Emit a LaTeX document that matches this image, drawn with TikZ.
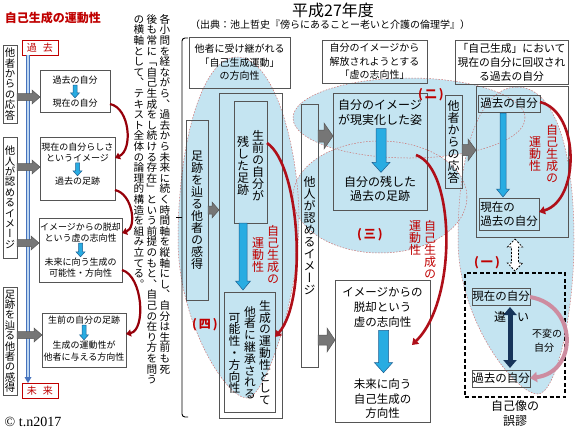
\documentclass[tikz,border=0pt]{standalone}
\usepackage{fontspec}
\setmainfont{Noto Sans CJK JP}
\newfontfamily\jpv[RawFeature=+vert]{Noto Sans CJK JP}
\newfontfamily\serifx{Liberation Serif}
\usetikzlibrary{arrows.meta,calc}
\definecolor{redtxt}{RGB}{192,0,0}
\definecolor{darc}{RGB}{150,0,10}
\definecolor{marc}{RGB}{175,15,25}
\definecolor{eggc}{RGB}{196,228,241}
\definecolor{eggline}{RGB}{205,115,115}
\definecolor{boxline}{RGB}{85,85,85}
\definecolor{bluef}{RGB}{40,172,226}
\definecolor{bluel}{RGB}{30,95,145}
\definecolor{grayf}{RGB}{118,118,118}
\definecolor{grayl}{RGB}{85,85,85}
\definecolor{navyc}{RGB}{22,52,90}
\definecolor{pinkarc}{RGB}{205,140,160}
\definecolor{tldark}{RGB}{70,115,190}
\definecolor{tllight}{RGB}{190,215,240}
\newcommand\fs[1]{\fontsize{#1}{#1}\selectfont}
\newcommand\fsb[2]{\fontsize{#1}{#2}\selectfont}
\makeatletter
\newcommand\vt[1]{\vtop{\offinterlineskip\jpv\vt@#1\@nil}}
\def\vt@#1{\ifx#1\@nil\else\hbox to 1em{\vrule height .88em depth .12em width 0pt\hss#1\hss}\expandafter\vt@\fi}
\makeatother
\newcommand\varrow[6]{\path[#1] let \p1=(#2), \p2=(#3) in (\x1-#4,\y1) -- (\x1+#4,\y1) -- (\x1+#4,\y2+#6) -- (\x1+#5,\y2+#6) -- (\x1,\y2) -- (\x1-#5,\y2+#6) -- (\x1-#4,\y2+#6) -- cycle;}
\newcommand\harrow[6]{\path[#1] let \p1=(#2), \p2=(#3) in (\x1,\y1-#4) -- (\x1,\y1+#4) -- (\x2-#6,\y1+#4) -- (\x2-#6,\y1+#5) -- (\x2,\y1) -- (\x2-#6,\y1-#5) -- (\x2-#6,\y1-#4) -- cycle;}
\newcommand\dvarrow[6]{\path[#1] let \p1=(#2), \p2=(#3) in (\x1,\y1) -- (\x1+#5,\y1-#6) -- (\x1+#4,\y1-#6) -- (\x1+#4,\y2+#6) -- (\x1+#5,\y2+#6) -- (\x1,\y2) -- (\x1-#5,\y2+#6) -- (\x1-#4,\y2+#6) -- (\x1-#4,\y1-#6) -- (\x1-#5,\y1-#6) -- cycle;}
\begin{document}
\begin{tikzpicture}[x=1pt,y=-1pt,
  every node/.style={inner sep=0pt, outer sep=0pt},
  box/.style={draw=boxline, line width=0.7pt},
  rbox/.style={draw=redtxt, line width=0.8pt, text=redtxt},
  eggo/.style={draw=eggline, line width=0.5pt, dash pattern=on 1.5pt off 1.5pt},
  redarc/.style={draw=marc, line width=2.6pt, -{Triangle[width=8pt,length=6pt]}},
  darkarc/.style={draw=darc, line width=2.2pt, -{Triangle[width=7pt,length=5pt]}},
  blueb/.style={fill=bluef, draw=bluel, line width=0.5pt},
  grayb/.style={fill=grayf, draw=grayl, line width=0.5pt},
  redlab/.style={text=redtxt, font=\fs{12}\bfseries},
  redv/.style={text=redtxt, font=\fs{12}}
]
\useasboundingbox (0,0) rectangle (576,432);
\fill[white] (0,0) rectangle (576,432);

% ---------- blue regions ----------
\fill[eggc] (237,57) .. controls (275,57) and (299,150) .. (299,220) .. controls (299,300) and (265,398) .. (247,398) .. controls (225,398) and (178,320) .. (178,240) .. controls (178,150) and (200,57) .. (237,57) -- cycle;
\fill[eggc] (517,87) .. controls (555,87) and (574,150) .. (574,240) .. controls (574,320) and (555,394) .. (538,394) .. controls (515,394) and (458,320) .. (458,240) .. controls (458,150) and (480,87) .. (517,87) -- cycle;
\fill[eggc] (409,118) ellipse [x radius=116pt, y radius=40pt];
\fill[eggc] (380,197) ellipse [x radius=87pt, y radius=56pt];
\draw[eggo] (237,57) .. controls (275,57) and (299,150) .. (299,220) .. controls (299,300) and (265,398) .. (247,398) .. controls (225,398) and (178,320) .. (178,240) .. controls (178,150) and (200,57) .. (237,57) -- cycle;
\draw[eggo] (517,87) .. controls (555,87) and (574,150) .. (574,240) .. controls (574,320) and (555,394) .. (538,394) .. controls (515,394) and (458,320) .. (458,240) .. controls (458,150) and (480,87) .. (517,87) -- cycle;
\draw[eggo] (409,118) ellipse [x radius=116pt, y radius=40pt];
\draw[eggo] (380,197) ellipse [x radius=87pt, y radius=56pt];

% ---------- left panel ----------
\node[font=\fs{12}\bfseries, text=redtxt] (ttl) at (53,18) {自己生成の運動性};
\node[rbox, minimum width=36pt, minimum height=15pt, font=\fs{10}] (past) at (40,47.5) {過\hspace{0.6em}去};
\node[rbox, minimum width=36pt, minimum height=15pt, font=\fs{10}] (fut) at (40,390.5) {未\hspace{0.6em}来};
\coordinate (tlA) at (28,55);
\coordinate (tlB) at (28,383);
\draw[tldark, line width=4.6pt] (tlA) -- ($(tlB)+(0,-5)$);
\draw[tllight, line width=2.2pt] (tlA) -- ($(tlB)+(0,-5)$);
\fill[tldark] ($(tlB)+(-3.5,-6)$) -- ($(tlB)+(3.5,-6)$) -- (tlB) -- cycle;

\node[box, minimum width=14pt, minimum height=78pt, font=\fs{10.4}] (L1) at (10,84) {\vt{他者からの応答}};
\node[box, minimum width=14pt, minimum height=121pt, font=\fs{10.4}] (L2) at (10,197.5) {\vt{他人が認めるイメージ}};
\node[box, minimum width=14pt, minimum height=108pt, font=\fs{10.4}] (L3) at (10,341) {\vt{足跡を辿る他者の感得}};

\node[box, minimum width=70pt, minimum height=42pt] (B1) at (75,91) {};
\node[font=\fs{9}] (B1a) at (75,80) {過去の自分};
\node[font=\fs{9}] (B1b) at (75,103) {現在の自分};
\node[box, minimum width=75pt, minimum height=63pt] (B2) at (77.5,168.5) {};
\node[font=\fs{9}] (B2a) at (77.5,147) {現在の自分らしさ};
\node[font=\fs{9}] (B2b) at (77.5,158) {というイメージ};
\node[font=\fs{9}] (B2c) at (77.5,181) {過去の足跡};
\node[box, minimum width=83pt, minimum height=64pt] (B3) at (80.5,250) {};
\node[font=\fs{9}] (B3a) at (80.5,227) {イメージからの脱却};
\node[font=\fs{9}] (B3b) at (80.5,238) {という虚の志向性};
\node[font=\fs{9}] (B3c) at (80.5,262) {未来に向う生成の};
\node[font=\fs{9}] (B3d) at (80.5,273) {可能性・方向性};
\node[box, minimum width=84pt, minimum height=54pt] (B4) at (84,340) {};
\node[font=\fs{9}] (B4a) at (84,320) {生前の自分の足跡};
\node[font=\fs{9}] (B4b) at (84,345) {生成の運動性が};
\node[font=\fs{9}] (B4c) at (84,357) {他者に与える方向性};

\varrow{blueb}{$(B1a.south)+(0,1)$}{$(B1b.north)+(0,-1)$}{2pt}{4.5pt}{5pt}
\varrow{blueb}{$(B2b.south)+(0,1)$}{$(B2c.north)+(0,-1)$}{2pt}{4.5pt}{5pt}
\varrow{blueb}{$(B3b.south)+(0,1)$}{$(B3c.north)+(0,-1)$}{2pt}{4.5pt}{5pt}
\varrow{blueb}{$(B4a.south)+(0,1)$}{$(B4b.north)+(0,-1)$}{2pt}{4.5pt}{5pt}

\harrow{grayb}{L1.east |- 0,97}{B1.west}{3.5pt}{7pt}{8pt}
\harrow{grayb}{L2.east |- 0,167}{B2.west}{3.5pt}{7pt}{8pt}
\harrow{grayb}{L2.east |- 0,243}{B3.west}{3.5pt}{7pt}{8pt}
\harrow{grayb}{L3.east |- 0,335}{B4.west}{3.5pt}{7pt}{8pt}

\draw[darkarc] (B1.east |- 0,104) .. controls (130,108) and (133,150) .. (B2.east |- 0,158);
\draw[darkarc] (B2.east |- 0,190) .. controls (133,194) and (137,228) .. (B3.east |- 0,233);
\draw[darkarc] (B3.east |- 0,270) .. controls (143,276) and (146,330) .. (B4.east |- 0,334);

\node[font=\fs{14}\serifx] (copy) at (33,422) {© t.n2017};

% ---------- vertical text columns ----------
\node[anchor=north, font=\fs{10.6}] (col1) at (165,14) {\vt{各小問を経ながら、過去から未来に続く時間軸を縦軸にし、自分は生前も死}};
\node[anchor=north, font=\fs{10.6}] (col2) at (152,14) {\vt{後も常に「自己生成をし続ける存在」という前提のもと、自己の在り方を問う}};
\node[anchor=north, font=\fs{10.6}] (col3) at (139,14) {\vt{の横軸として、テキスト全体の論理的構造を組み立てる。}};
\draw[black, line width=0.9pt, rounded corners=3pt] (188,38) -- (182,38) -- (182,417) -- (188,417);
\draw[black, line width=0.9pt] (182,217) -- (176,217);

% ---------- titles ----------
\node[font=\fs{16}] (title) at (333,10) {平成27年度};
\node[font=\fs{10}] (sub) at (330,25) {（出典：池上哲史『傍らにあることー老いと介護の倫理学』）};

% ---------- section four ----------
\node[box, minimum width=101pt, minimum height=51pt, align=center, font=\fsb{10}{13.5}] (T4) at (239.5,62.5) {他者に受け継がれる\\「自己生成運動」\\の方向性};
\node[box, minimum width=22pt, minimum height=180pt, font=\fs{12}] (F4) at (197,210) {\vt{足跡を辿る他者の感得}};
\node[box, minimum width=63pt, minimum height=325pt] (O4) at (250.5,255.5) {};
\node[box, minimum width=33pt, minimum height=122pt] (S4) at (250.5,162) {};
\node[box, minimum width=51pt, minimum height=120pt] (K4) at (249.5,352) {};
\node[font=\fs{12}] (s4a) at (258,166) {\vt{生前の自分が}};
\node[font=\fs{12}] (s4b) at (243,166) {\vt{残した足跡}};
\node[font=\fs{11.8}] (k4a) at (265,353) {\vt{生成の運動性として}};
\node[font=\fs{11.8}] (k4b) at (250,353) {\vt{他者に継承される}};
\node[font=\fs{11.8}] (k4c) at (234.5,353) {\vt{可能性・方向性}};
\varrow{blueb}{S4.south -| s4b}{$(K4.north -| s4b)+(0,-2)$}{4pt}{7.5pt}{9pt}
\harrow{grayb}{F4.east |- 0,210}{O4.west}{4pt}{8pt}{7pt}
\draw[redarc] (S4.east |- 0,143) .. controls (300,165) and (308,300) .. (K4.east |- 0,337);
\node[redv] (r4a) at (273,255) {\vt{自己生成の}};
\node[redv] (r4b) at (258,255) {\vt{運動性}};
\node[redlab] (n4) at (205,325) {(\,四\,)};

% ---------- sections two / three ----------
\node[box, minimum width=105pt, minimum height=43pt, align=center, font=\fsb{10}{13.5}] (T23) at (374.5,61.5) {自分のイメージから\\解放されようとする\\「虚の志向性」};
\node[box, minimum width=17pt, minimum height=263pt, font=\fs{12}] (M) at (309.5,235.5) {\vt{他人が認めるイメージ}};
\node[box, minimum width=94pt, minimum height=117pt] (B23) at (380,151.5) {};
\node[font=\fs{12}] (b23a) at (380,105) {自分のイメージ};
\node[font=\fs{12}] (b23b) at (380,120) {が現実化した姿};
\node[font=\fs{12}] (b23c) at (380,182) {自分の残した};
\node[font=\fs{12}] (b23d) at (380,196) {過去の足跡};
\varrow{blueb}{$(b23b.south)+(1,3)$}{$(b23c.north)+(1,-4)$}{5pt}{9pt}{10pt}
\harrow{grayb}{M.east |- 0,136}{B23.west}{6pt}{13pt}{9pt}

\node[box, minimum width=95pt, minimum height=142pt] (B3m) at (382.5,351) {};
\node[font=\fs{11.5}] (m3a) at (382.5,292) {イメージからの};
\node[font=\fs{11.5}] (m3b) at (382.5,307) {脱却という};
\node[font=\fs{11.5}] (m3c) at (382.5,322) {虚の志向性};
\node[font=\fs{11.5}] (m3d) at (382.5,384) {未来に向う};
\node[font=\fs{11.5}] (m3e) at (382.5,399) {自己生成の};
\node[font=\fs{11.5}] (m3f) at (382.5,413) {方向性};
\varrow{blueb}{$(m3c.south)+(1,3)$}{$(m3d.north)+(1,-6)$}{5pt}{9pt}{10pt}
\harrow{grayb}{M.east |- 0,340}{B3m.west}{5pt}{12pt}{8pt}

\draw[redarc] ($(B23.east |- 0,155)+(-11,0)$) .. controls (455,168) and (458,300) .. ($(B3m.east |- 0,345)+(-18,0)$);
\node[redv, anchor=north] (r3a) at (430,220) {\vt{自己生成の}};
\node[redv, anchor=north] (r3b) at (415,220) {\vt{運動性}};
\node[redlab] (n2) at (431,95) {(\,二\,)};
\node[redlab] (n3) at (370,235) {(\,三\,)};

% ---------- section one ----------
\node[box, minimum width=113pt, minimum height=44pt, align=center, font=\fsb{10.8}{14}] (T1) at (511.5,62) {「自己生成」において\\現在の自分に回収され\\る過去の自分};
\node[box, minimum width=17pt, minimum height=93pt, font=\fs{12}] (R) at (453.5,141.5) {\vt{他者からの応答}};
\node[box, minimum width=92pt, minimum height=151pt] (OR) at (522,161.5) {};
\node[box, minimum width=62pt, minimum height=17pt, font=\fs{11.5}] (r1) at (509,103.5) {過去の自分};
\node[box, minimum width=60pt, minimum height=32pt] (r2) at (509,214) {};
\node[align=left, font=\fsb{11.5}{14.5}] (r2t) at (509,214) {現在の\\過去の自分};
\varrow{blueb}{$(r1.south west)+(25,1)$}{$(r2.north west)+(24,-1)$}{3pt}{6.5pt}{8pt}
\harrow{grayb}{R.east |- 0,150}{OR.west}{5.5pt}{11pt}{8pt}
\draw[redarc] (r1.east |- 0,102) .. controls (580,112) and (580,200) .. (r2.east |- 0,212);
\node[redv] (r1a) at (552,154) {\vt{自己生成の}};
\node[redv] (r1b) at (535,154) {\vt{運動性}};
\node[redlab] (n1) at (487,263) {(\,一\,)};

\node[draw=black, line width=1.3pt, dash pattern=on 4pt off 2.5pt, minimum width=100pt, minimum height=124pt] (DB) at (515,335) {};
\dvarrow{fill=white, draw=black, line width=0.8pt, dash pattern=on 2pt off 1.5pt}{$(OR.south -| 515,0)+(0,2)$}{$(DB.north -| 515,0)+(0,-2)$}{3.5pt}{7.5pt}{8pt}
\node[box, minimum width=58pt, minimum height=17pt, font=\fs{11.5}] (d1) at (501,296.5) {現在の自分};
\node[box, minimum width=58pt, minimum height=17pt, font=\fs{11.5}] (d2) at (501,378.5) {過去の自分};
\draw[navyc, line width=5pt, {Triangle[width=13pt,length=8pt]}-{Triangle[width=13pt,length=8pt]}] ($(d1.south -| 510,0)+(0,2)$) -- ($(d2.north -| 510,0)+(0,-2)$);
\node[font=\fs{12}] (w1) at (500,317) {違};
\node[font=\fs{12}] (w2) at (523,317) {い};
\draw[pinkarc, line width=4pt, -{Triangle[width=10pt,length=7pt]}] (d1.east |- 0,297) .. controls (578,305) and (578,372) .. (d2.east |- 0,378);
\node[font=\fs{10}] (h1) at (547,334) {不変の};
\node[font=\fs{10}] (h2) at (544,348) {自分};
\node[font=\fs{12}] (g1) at (515,406) {自己像の};
\node[font=\fs{12}] (g2) at (515,421) {誤謬};
\end{tikzpicture}
\end{document}
